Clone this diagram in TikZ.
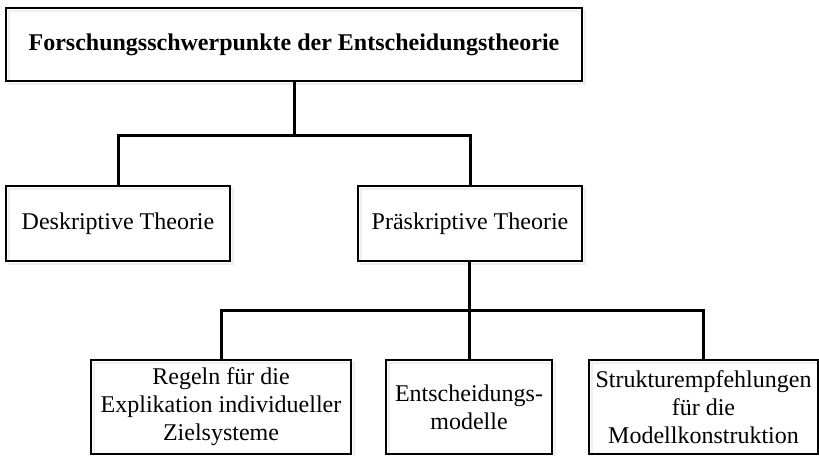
\documentclass[tikz,border=0pt]{standalone}
\usepackage{fontspec}
\setmainfont{Liberation Serif}
\usetikzlibrary{shadows}
\begin{document}
\begin{tikzpicture}[
    x=0.4pt, y=-0.4pt,
    box/.style={draw=black, line width=0.5pt, inner sep=0pt, outer sep=0pt,
                align=center, font=\fontsize{9.6pt}{11.2pt}\selectfont,
                drop shadow={fill=none, draw=black!12, line width=0.5pt,
                             shadow xshift=1.2pt, shadow yshift=-1.2pt}},
    topbox/.style={box, minimum width=230.4pt, minimum height=29.2pt,
                   font=\fontsize{9.6pt}{11.2pt}\selectfont\bfseries},
    midbox/.style={box, minimum width=89.6pt, minimum height=30pt},
    lowbox/.style={box, minimum height=37.6pt},
    conn/.style={line width=1.2pt, black},
]
\useasboundingbox (0,0) rectangle (819,455);

% top level
\node[topbox] (forsch) at (294,44.5) {Forschungsschwerpunkte der Entscheidungstheorie};

% second level
\node[midbox] (deskr) at (118,223.5) {Deskriptive Theorie};
\node[midbox] (praeskr) at (470,223.5) {Präskriptive Theorie};

% third level
\node[lowbox, minimum width=104pt] (regeln) at (221,407)
  {Regeln für die\\Explikation individueller\\Zielsysteme};
\node[lowbox, minimum width=66.4pt] (modelle) at (469,407)
  {Entscheidungs-\\modelle};
\node[lowbox, minimum width=91.6pt] (struktur) at (703.5,407)
  {Strukturempfehlungen\\für die\\Modellkonstruktion};

% connectors
\coordinate (j1) at (294,135);
\coordinate (j2) at (469,310);
\draw[conn] (forsch.south) -- (j1);
\draw[conn] (deskr.north) |- (j1) -| (praeskr.north);
\draw[conn] (praeskr.south -| j2) -- (j2);
\draw[conn] (regeln.north) |- (j2) -| (struktur.north);
\draw[conn] (j2) -- (modelle.north);
\end{tikzpicture}
\end{document}
